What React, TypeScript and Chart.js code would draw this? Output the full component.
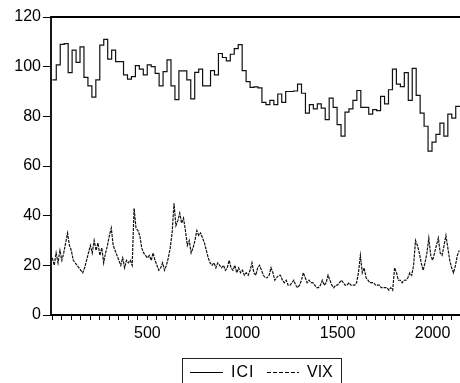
import React, { useEffect, useRef } from 'react';
import { Chart, registerables } from 'chart.js';

Chart.register(...registerables);

// ICI: monthly index values (step series)
const ICI = [
  94.7, 100.7, 109, 109.3, 97.6, 106.7, 101.7, 108, 95.7, 92.3,
  87.7, 94.7, 108.7, 111, 103, 106.7, 102, 102, 96.7, 95,
  96, 100.4, 99, 96.7, 100.7, 100, 97.3, 92.3, 98, 102.7,
  92.3, 86.7, 98.3, 98.3, 94.7, 87, 97.7, 99, 92.3, 92.3,
  98.4, 96.7, 105.3, 103.7, 102.3, 105, 107.3, 108.9, 98.4, 94,
  91.7, 91.9, 91.5, 85.6, 84.7, 86.4, 84.7, 89, 85.6, 90,
  90, 90.2, 93, 89.3, 81.3, 84.7, 83, 85, 83.3, 78.7,
  87.3, 83.6, 76.7, 72, 81.7, 83, 86.4, 90.4, 83.6, 83.6,
  80.9, 82.7, 82.3, 88, 85, 90.7, 99, 93, 92, 97.6,
  86.4, 99.3, 88.4, 81.3, 76, 66, 69.6, 72.7, 77.3, 72,
  80.9, 79.3, 84,
];
const ICI_STEP = 20.8; // trading days per ICI observation

// VIX: sampled every 10 trading days
const VIX_STEP = 10;
const VIX = [
  23, 20, 25, 21, 26, 22, 25, 29, 33, 28,
  26, 22, 21, 20, 19, 18, 17, 19, 22, 25,
  28, 25, 30, 26, 29, 24, 27, 21, 25, 28,
  32, 35, 28, 26, 24, 22, 20, 23, 19, 22,
  21, 22, 20, 43, 35, 34, 32, 27, 25, 24,
  23, 24, 22, 25, 22, 20, 18, 19, 21, 18,
  20, 23, 27, 33, 45, 36, 38, 41, 37, 39,
  34, 28, 30, 25, 27, 30, 34, 32, 33, 31,
  29, 26, 23, 21, 20, 21, 19, 21, 20, 19,
  20, 18, 19, 22, 19, 18, 20, 17, 19, 17,
  18, 16, 17, 16, 18, 21, 17, 16, 19, 20,
  18, 16, 15, 15, 16, 19, 17, 14, 15, 16,
  16, 14, 13, 14, 12, 12, 13, 14, 12, 11,
  12, 14, 17, 15, 13, 14, 13, 13, 12, 11,
  11, 12, 14, 12, 13, 16, 14, 12, 11, 12,
  12, 13, 14, 13, 12, 12, 13, 12, 12, 12,
  13, 17, 24, 17, 19, 15, 14, 13, 13, 13,
  12, 12, 12, 11, 11, 11, 11, 10, 11, 10,
  19, 17, 14, 14, 13, 14, 14, 15, 17, 16,
  20, 30, 28, 25, 21, 18, 21, 25, 31, 24,
  22, 25, 28, 31, 25, 24, 28, 32, 27, 22,
  19, 17, 20, 24, 26,
];

const X_MIN = -7;
const X_MAX = 2144;
const Y_TICKS = [0, 20, 40, 60, 80, 100, 120];
const X_LABELS = [500, 1000, 1500, 2000];

const FONT = "'Liberation Sans', Arial, sans-serif";

const framePlugin = {
  id: 'frame',
  afterDraw(chart: any) {
    const { ctx, chartArea: a } = chart;
    ctx.save();
    ctx.strokeStyle = '#000';
    ctx.lineWidth = 1.8;
    ctx.beginPath();
    ctx.moveTo(a.right + 2, a.top);
    ctx.lineTo(a.left, a.top);
    ctx.lineTo(a.left, a.bottom);
    ctx.lineTo(a.right + 2, a.bottom);
    ctx.stroke();

    // legend box
    const lx = 182.5, ly = 358.5;
    ctx.lineWidth = 1;
    ctx.strokeStyle = '#222';
    ctx.strokeRect(lx, ly, 159, 40);
    const cy = 372.5;
    ctx.strokeStyle = '#000';
    ctx.beginPath();
    ctx.moveTo(190, cy);
    ctx.lineTo(223, cy);
    ctx.stroke();
    ctx.setLineDash([4, 2]);
    ctx.beginPath();
    ctx.moveTo(267, cy);
    ctx.lineTo(299, cy);
    ctx.stroke();
    ctx.setLineDash([]);
    ctx.fillStyle = '#000';
    ctx.font = `16px ${FONT}`;
    ctx.textBaseline = 'middle';
    ctx.textAlign = 'left';
    (ctx as any).letterSpacing = '1px';
    ctx.fillText('ICI', 231, cy);
    (ctx as any).letterSpacing = '0px';
    ctx.fillText('VIX', 307, cy);
    ctx.restore();
  },
};

export default function App() {
  const ref = useRef<HTMLCanvasElement>(null);

  useEffect(() => {
    if (!ref.current) return;
    const iciData = ICI.map((v, i) => ({ x: i * ICI_STEP, y: v }));
    iciData.push({ x: X_MAX, y: ICI[ICI.length - 1] });
    const vixData = VIX.map((v, i) => ({ x: i * VIX_STEP, y: v }));

    const chart = new Chart(ref.current, {
      type: 'line',
      data: {
        datasets: [
          {
            label: 'ICI',
            data: iciData,
            borderColor: '#111',
            borderWidth: 1.2,
            pointRadius: 0,
            stepped: true,
            fill: false,
          },
          {
            label: 'VIX',
            data: vixData,
            borderColor: '#111',
            borderWidth: 1.2,
            borderDash: [3, 1],
            pointRadius: 0,
            tension: 0,
            fill: false,
          },
        ],
      },
      options: {
        responsive: false,
        animation: false,
        layout: { padding: { top: 17, right: 0, left: 0, bottom: 0 } },
        plugins: {
          legend: { display: false },
          tooltip: { enabled: false },
        },
        scales: {
          x: {
            type: 'linear',
            min: X_MIN,
            max: X_MAX,
            afterFit: (s: any) => { s.height = 68; },
            afterBuildTicks: (s: any) => {
              const t: { value: number }[] = [];
              for (let v = 0; v <= X_MAX; v += 50) t.push({ value: v });
              s.ticks = t;
            },
            border: { display: false },
            grid: {
              drawOnChartArea: false,
              drawTicks: true,
              tickLength: 5,
              tickColor: '#000',
              tickWidth: 1,
            },
            ticks: {
              autoSkip: false,
              maxRotation: 0,
              minRotation: 0,
              padding: 4,
              color: '#000',
              font: { family: FONT, size: 16 },
              callback: (v: any) => (X_LABELS.includes(Number(v)) ? String(v) : ''),
            },
          },
          y: {
            min: 0,
            max: 120,
            afterFit: (s: any) => { s.width = 51; },
            afterBuildTicks: (s: any) => { s.ticks = Y_TICKS.map((v) => ({ value: v })); },
            border: { display: false },
            grid: {
              drawOnChartArea: false,
              drawTicks: true,
              tickLength: 8,
              tickColor: '#000',
              tickWidth: 1,
            },
            ticks: {
              padding: 2,
              color: '#000',
              font: { family: FONT, size: 16 },
            },
          },
        },
      },
      plugins: [framePlugin],
    });
    return () => chart.destroy();
  }, []);

  return (
    <div style={{ position: 'absolute', left: 0, top: 0, width: 460, height: 383, background: '#fff' }}>
      <canvas ref={ref} width={460} height={383} style={{ display: 'block' }} />
    </div>
  );
}
